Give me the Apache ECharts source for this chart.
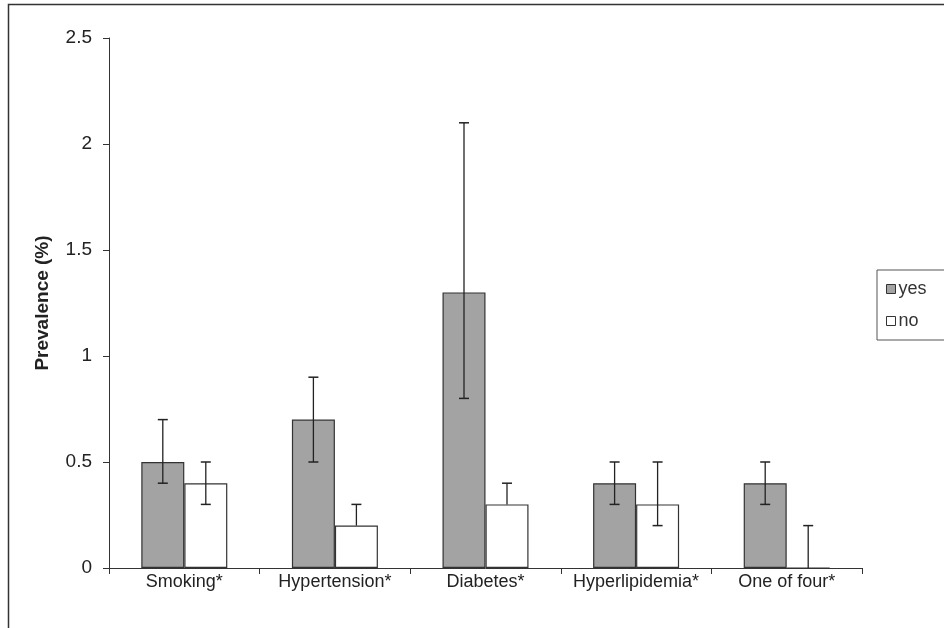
<!DOCTYPE html>
<html><head><meta charset="utf-8">
<script src="https://cdn.jsdelivr.net/npm/echarts@6/dist/echarts.min.js"></script>
<style>html,body{margin:0;padding:0;background:#fff}#c{width:944px;height:628px}</style>
</head><body><div id="c"></div>
<script>
const categories = ['Smoking*', 'Hypertension*', 'Diabetes*', 'Hyperlipidemia*', 'One of four*'];
const yesValues = [0.5, 0.7, 1.3, 0.4, 0.4];
const noValues = [0.4, 0.2, 0.3, 0.3, 0];
const yesLow = [0.4, 0.5, 0.8, 0.3, 0.3];
const yesHigh = [0.7, 0.9, 2.1, 0.5, 0.5];
const noLow = [0.3, 0.2, 0.3, 0.2, 0];
const noHigh = [0.5, 0.3, 0.4, 0.5, 0.2];
const yTicks = [0, 0.5, 1, 1.5, 2, 2.5];

const BAR_W = 43;
const FONT = 'Liberation Sans, Arial, sans-serif';

function errSeries(name, low, high, values, side) {
  return {
    type: 'custom', name: name + '_err', z: 10, silent: true,
    data: categories.map((c, i) => [i, low[i], high[i], values[i]]),
    renderItem: function (params, api) {
      const i = api.value(0);
      const lo = api.coord([i, api.value(1)]);
      const hi = api.coord([i, api.value(2)]);
      const x = lo[0] + side * BAR_W / 2;
      const cap = 5;
      const children = [{
        type: 'line', shape: { x1: x, y1: lo[1], x2: x, y2: hi[1] },
        style: { stroke: '#222', lineWidth: 1.3 }
      }, {
        type: 'line', shape: { x1: x - cap, y1: hi[1], x2: x + cap, y2: hi[1] },
        style: { stroke: '#222', lineWidth: 1.5 }
      }];
      if (api.value(1) < api.value(3)) {
        children.push({
          type: 'line', shape: { x1: x - cap, y1: lo[1], x2: x + cap, y2: lo[1] },
          style: { stroke: '#222', lineWidth: 1.5 }
        });
      }
      return { type: 'group', children: children };
    }
  };
}

const chart = echarts.init(document.getElementById('c'));
chart.setOption({
  animation: false,
  backgroundColor: '#fff',
  textStyle: { fontFamily: FONT },
  grid: { left: 109, right: 82, top: 38, bottom: 60 },
  legend: {
    orient: 'vertical', left: 877, top: 270,
    data: [
      { name: 'yes', icon: 'rect', itemStyle: { color: '#a3a3a3', borderColor: '#333', borderWidth: 1 } },
      { name: 'no', icon: 'rect', itemStyle: { color: '#fff', borderColor: '#333', borderWidth: 1 } }
    ],
    itemWidth: 9, itemHeight: 9, itemGap: 14,
    padding: [10, 40, 10, 9],
    borderColor: '#555', borderWidth: 1,
    textStyle: { fontSize: 18, color: '#333', fontFamily: FONT, padding: [0, 0, 0, -2] }
  },
  xAxis: {
    type: 'category', data: categories,
    axisLine: { lineStyle: { color: '#333', width: 1 } },
    axisTick: { show: true, length: 6, lineStyle: { color: '#333' }, alignWithLabel: false },
    axisLabel: { fontSize: 18, color: '#222', margin: 5, fontFamily: FONT, interval: 0, hideOverlap: false }
  },
  yAxis: {
    type: 'value', min: 0, max: 2.5, interval: 0.5,
    name: 'Prevalence (%)', nameLocation: 'middle', nameGap: 57,
    nameTextStyle: { fontSize: 19, fontWeight: 'bold', color: '#222', fontFamily: FONT },
    axisLine: { show: true, lineStyle: { color: '#333', width: 1 } },
    axisTick: { show: true, length: 6, lineStyle: { color: '#333' } },
    splitLine: { show: false },
    axisLabel: { fontSize: 19, color: '#222', margin: 17, fontFamily: FONT,
      formatter: v => yTicks.includes(v) ? String(v) : '' }
  },
  series: [
    { type: 'bar', name: 'yes', data: yesValues, barWidth: BAR_W, barGap: '0%',
      itemStyle: { color: '#a3a3a3', borderColor: '#333', borderWidth: 1.2 } },
    { type: 'bar', name: 'no', data: noValues, barWidth: BAR_W, barGap: '0%',
      itemStyle: { color: '#fff', borderColor: '#333', borderWidth: 1.2 } },
    errSeries('yes', yesLow, yesHigh, yesValues, -1),
    errSeries('no', noLow, noHigh, noValues, 1)
  ],
  graphic: [{
    type: 'rect', shape: { x: 8.5, y: 4.5, width: 940, height: 630 },
    style: { fill: 'none', stroke: '#333', lineWidth: 1.5 }, silent: true
  }]
});
</script></body></html>
